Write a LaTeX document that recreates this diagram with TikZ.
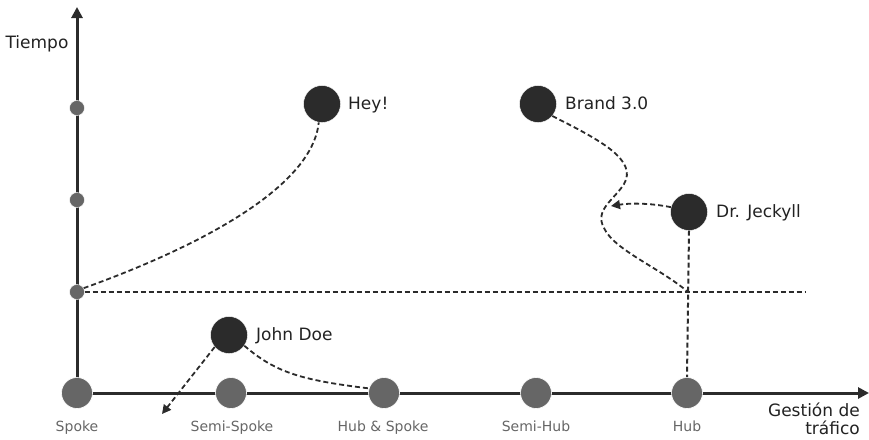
\documentclass[tikz,border=0pt]{standalone}
\usepackage{fontspec}
\setmainfont{DejaVu Sans}
\usetikzlibrary{arrows.meta}
\definecolor{ink}{HTML}{2B2B2B}
\definecolor{dotgrey}{HTML}{666666}
\definecolor{txt}{HTML}{222222}
\definecolor{cattxt}{HTML}{666666}
\tikzset{
  bigdot/.style={circle,fill=ink,draw=white,line width=0.4pt,minimum size=37pt,inner sep=0pt},
  catdot/.style={circle,fill=dotgrey,draw=white,line width=0.6pt,minimum size=31pt,inner sep=0pt},
  tickdot/.style={circle,fill=dotgrey,draw=white,line width=0.4pt,minimum size=15pt,inner sep=0pt},
  axisline/.style={draw=ink,line width=3pt,-{Triangle[length=11pt,width=11pt]}},
  path/.style={draw=ink,line width=1.8pt,dash pattern=on 5pt off 3pt},
  patharrow/.style={path,-{Triangle[length=9pt,width=9pt]}},
  guideline/.style={draw=ink,line width=1.5pt,dash pattern=on 5pt off 3pt},
  lbl/.style={font=\fontsize{17}{18}\selectfont,text=txt,inner sep=0pt,anchor=base west},
  catlbl/.style={font=\fontsize{14}{15}\selectfont,text=cattxt,inner sep=0pt,anchor=base},
}
\begin{document}
\begin{tikzpicture}[x=1pt,y=-1pt]
\useasboundingbox (0,0) rectangle (869,439);
% coordinates for free ends
\coordinate (yorig) at (77,393);
\coordinate (ytop) at (77,7);
\coordinate (xtop) at (869,393);
\coordinate (hend) at (806,292);
\coordinate (cross) at (688,292);
\coordinate (jtip) at (162,414);
\coordinate (drtip) at (611,206);
% axes
\draw[axisline] (yorig) -- (ytop);
\draw[axisline] (yorig) -- (xtop);
% tick dots on time axis
\node[tickdot] (t1) at (77,108) {};
\node[tickdot] (t2) at (77,200) {};
\node[tickdot] (t3) at (77,292) {};
% horizontal guide
\draw[guideline] (t3.east) -- (hend);
% big dots
\node[bigdot] (hey) at (322,104) {};
\node[bigdot] (brand) at (538,104) {};
\node[bigdot] (jeck) at (689,212) {};
\node[bigdot] (john) at (229,335) {};
% category dots
\node[catdot] (spoke) at (77,393) {};
\node[catdot] (semispoke) at (231,393) {};
\node[catdot] (hubspoke) at (384,393) {};
\node[catdot] (semihub) at (536,393) {};
\node[catdot] (hub) at (687,393) {};
% paths
\draw[path] (t3.30) .. controls (190,250) and (312,190) .. (hey.-100);
\draw[path] (brand.-40) .. controls (600,140) and (638,160) .. (624,184)
   .. controls (614,200) and (594,210) .. (604,228)
   .. controls (614,250) and (660,268) .. (cross);
\draw[patharrow] (jeck.165) .. controls (650,203) and (630,203) .. (drtip);
\draw[guideline,line width=2pt] (jeck.south) -- (hub.north);
\draw[patharrow] (john.-140) -- (jtip);
\draw[path] (john.-35) .. controls (275,372) and (300,380) .. (hubspoke.163);
% labels
\node[lbl] (lhey) at (348,109) {Hey!};
\node[lbl] (lbrand) at (565,109) {Brand 3.0};
\node[lbl] (ljeck) at (716,217) {Dr. Jeckyll};
\node[lbl] (ljohn) at (256,340) {John Doe};
\node[lbl,anchor=base] (ltime) at (37,48) {Tiempo};
\node[lbl,anchor=base east,align=right,font=\fontsize{17}{18}\selectfont] (lgest) at (860,434) {Gestión de\\tráfico};
\node[catlbl] (cspoke) at (77,431) {Spoke};
\node[catlbl] (csemispoke) at (232,431) {Semi-Spoke};
\node[catlbl] (chubspoke) at (383,431) {Hub \& Spoke};
\node[catlbl] (csemihub) at (536,431) {Semi-Hub};
\node[catlbl] (chub) at (687,431) {Hub};
\end{tikzpicture}
\end{document}
